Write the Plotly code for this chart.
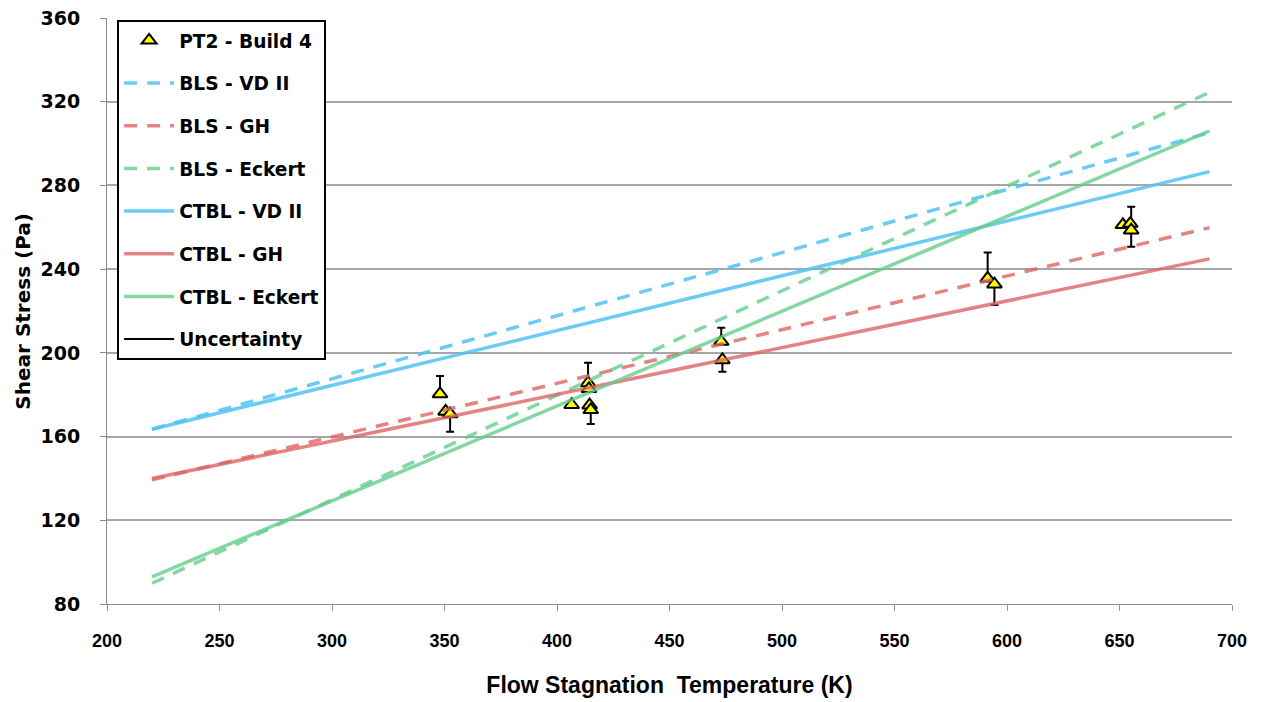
import plotly.graph_objects as go

# Measured wall shear stress (PT2 - Build 4)
temp_pts = [348.0, 350.5, 352.5, 406.5, 413.8, 414.2, 414.5, 415.0,
            473.0, 473.5, 591.4, 594.4, 651.5, 654.8, 655.2]
tau_pts = [180.4, 172.0, 170.8, 175.2, 185.6, 182.8, 175.0, 172.8,
           205.4, 196.6, 235.6, 232.8, 261.2, 261.8, 258.6]
err_plus = [8.6, 0, 0, 0, 9.7, 0, 0, 0, 6.6, 0, 12.3, 0, 0, 0, 11.2]
err_minus = [0, 0, 8.5, 0, 0, 0, 0, 6.8, 0, 5.6, 0, 9.9, 0, 0, 7.9]

# Model predictions across the temperature range
temp_model = [220, 690]
bls_vd2 = [163.5, 305.2]
bls_gh = [139.3, 259.8]
bls_eckert = [89.9, 324.5]
ctbl_vd2 = [163.5, 286.6]
ctbl_gh = [140.0, 244.9]
ctbl_eckert = [93.0, 306.0]

x_ticks = [200, 250, 300, 350, 400, 450, 500, 550, 600, 650, 700]
y_ticks = [80, 120, 160, 200, 240, 280, 320, 360]

BLUE = "rgba(80,195,245,0.85)"
RED = "rgba(222,100,100,0.8)"
GREEN = "rgba(100,205,140,0.8)"
DASH = "13px,10px"

fig = go.Figure()

fig.add_trace(go.Scatter(
    x=temp_pts, y=tau_pts, mode="markers", name="PT2 - Build 4",
    legendgroup="g0",
    marker=dict(symbol="triangle-up", size=13, color="#FFFF00",
                line=dict(color="black", width=2)),
    error_y=dict(type="data", symmetric=False, array=err_plus,
                 arrayminus=err_minus, color="black", thickness=2, width=4),
))

series = [
    ("BLS - VD II", bls_vd2, BLUE, DASH),
    ("BLS - GH", bls_gh, RED, DASH),
    ("BLS - Eckert", bls_eckert, GREEN, DASH),
    ("CTBL - VD II", ctbl_vd2, BLUE, "solid"),
    ("CTBL - GH", ctbl_gh, RED, "solid"),
    ("CTBL - Eckert", ctbl_eckert, GREEN, "solid"),
]
for i, (name, vals, col, dash) in enumerate(series):
    fig.add_trace(go.Scatter(
        x=temp_model, y=vals, mode="lines", name=name,
        legendgroup=f"g{i + 1}",
        line=dict(color=col, width=3.5, dash=dash),
    ))

fig.add_trace(go.Scatter(
    x=[None], y=[None], mode="lines", name="Uncertainty",
    legendgroup="g7", line=dict(color="black", width=2),
))

fig.update_layout(
    width=1263, height=702,
    margin=dict(l=107, r=31, t=18, b=98),
    paper_bgcolor="white", plot_bgcolor="white",
    showlegend=True,
    legend=dict(
        x=0.009, y=0.997, xanchor="left", yanchor="top",
        bgcolor="white", bordercolor="black", borderwidth=2,
        font=dict(family="DejaVu Sans", size=18.6, color="black", weight="bold"),
        tracegroupgap=15.5, itemwidth=50, traceorder="grouped",
    ),
    xaxis=dict(
        range=[200, 700], tickvals=x_ticks, showgrid=False, zeroline=False,
        showline=True, linecolor="#8c8c8c", linewidth=1, automargin=False,
        ticks="outside", ticklen=6, tickcolor="#8c8c8c",
        ticklabelstandoff=14,
        tickfont=dict(family="Liberation Sans", size=18,
                      color="black", weight="bold"),
        title=dict(text="Flow Stagnation  Temperature (K)", standoff=27,
                   font=dict(family="Liberation Sans", size=23,
                             color="black", weight="bold")),
    ),
    yaxis=dict(
        range=[80, 360], tickvals=y_ticks, showgrid=True,
        gridcolor="#a6a6a6", gridwidth=1.5, zeroline=False,
        showline=True, linecolor="#8c8c8c", linewidth=1, automargin=False,
        ticks="outside", ticklen=6, tickcolor="#8c8c8c",
        ticklabelstandoff=16,
        tickfont=dict(family="DejaVu Sans", size=19, color="black", weight="bold"),
    ),
    annotations=[dict(
        text="Shear Stress (Pa)", textangle=-90, showarrow=False,
        xref="paper", yref="paper", x=-0.075, y=0.5,
        xanchor="center", yanchor="middle",
        font=dict(family="DejaVu Sans", size=20, color="black", weight="bold"),
    )],
)

fig.write_html("out.html")
